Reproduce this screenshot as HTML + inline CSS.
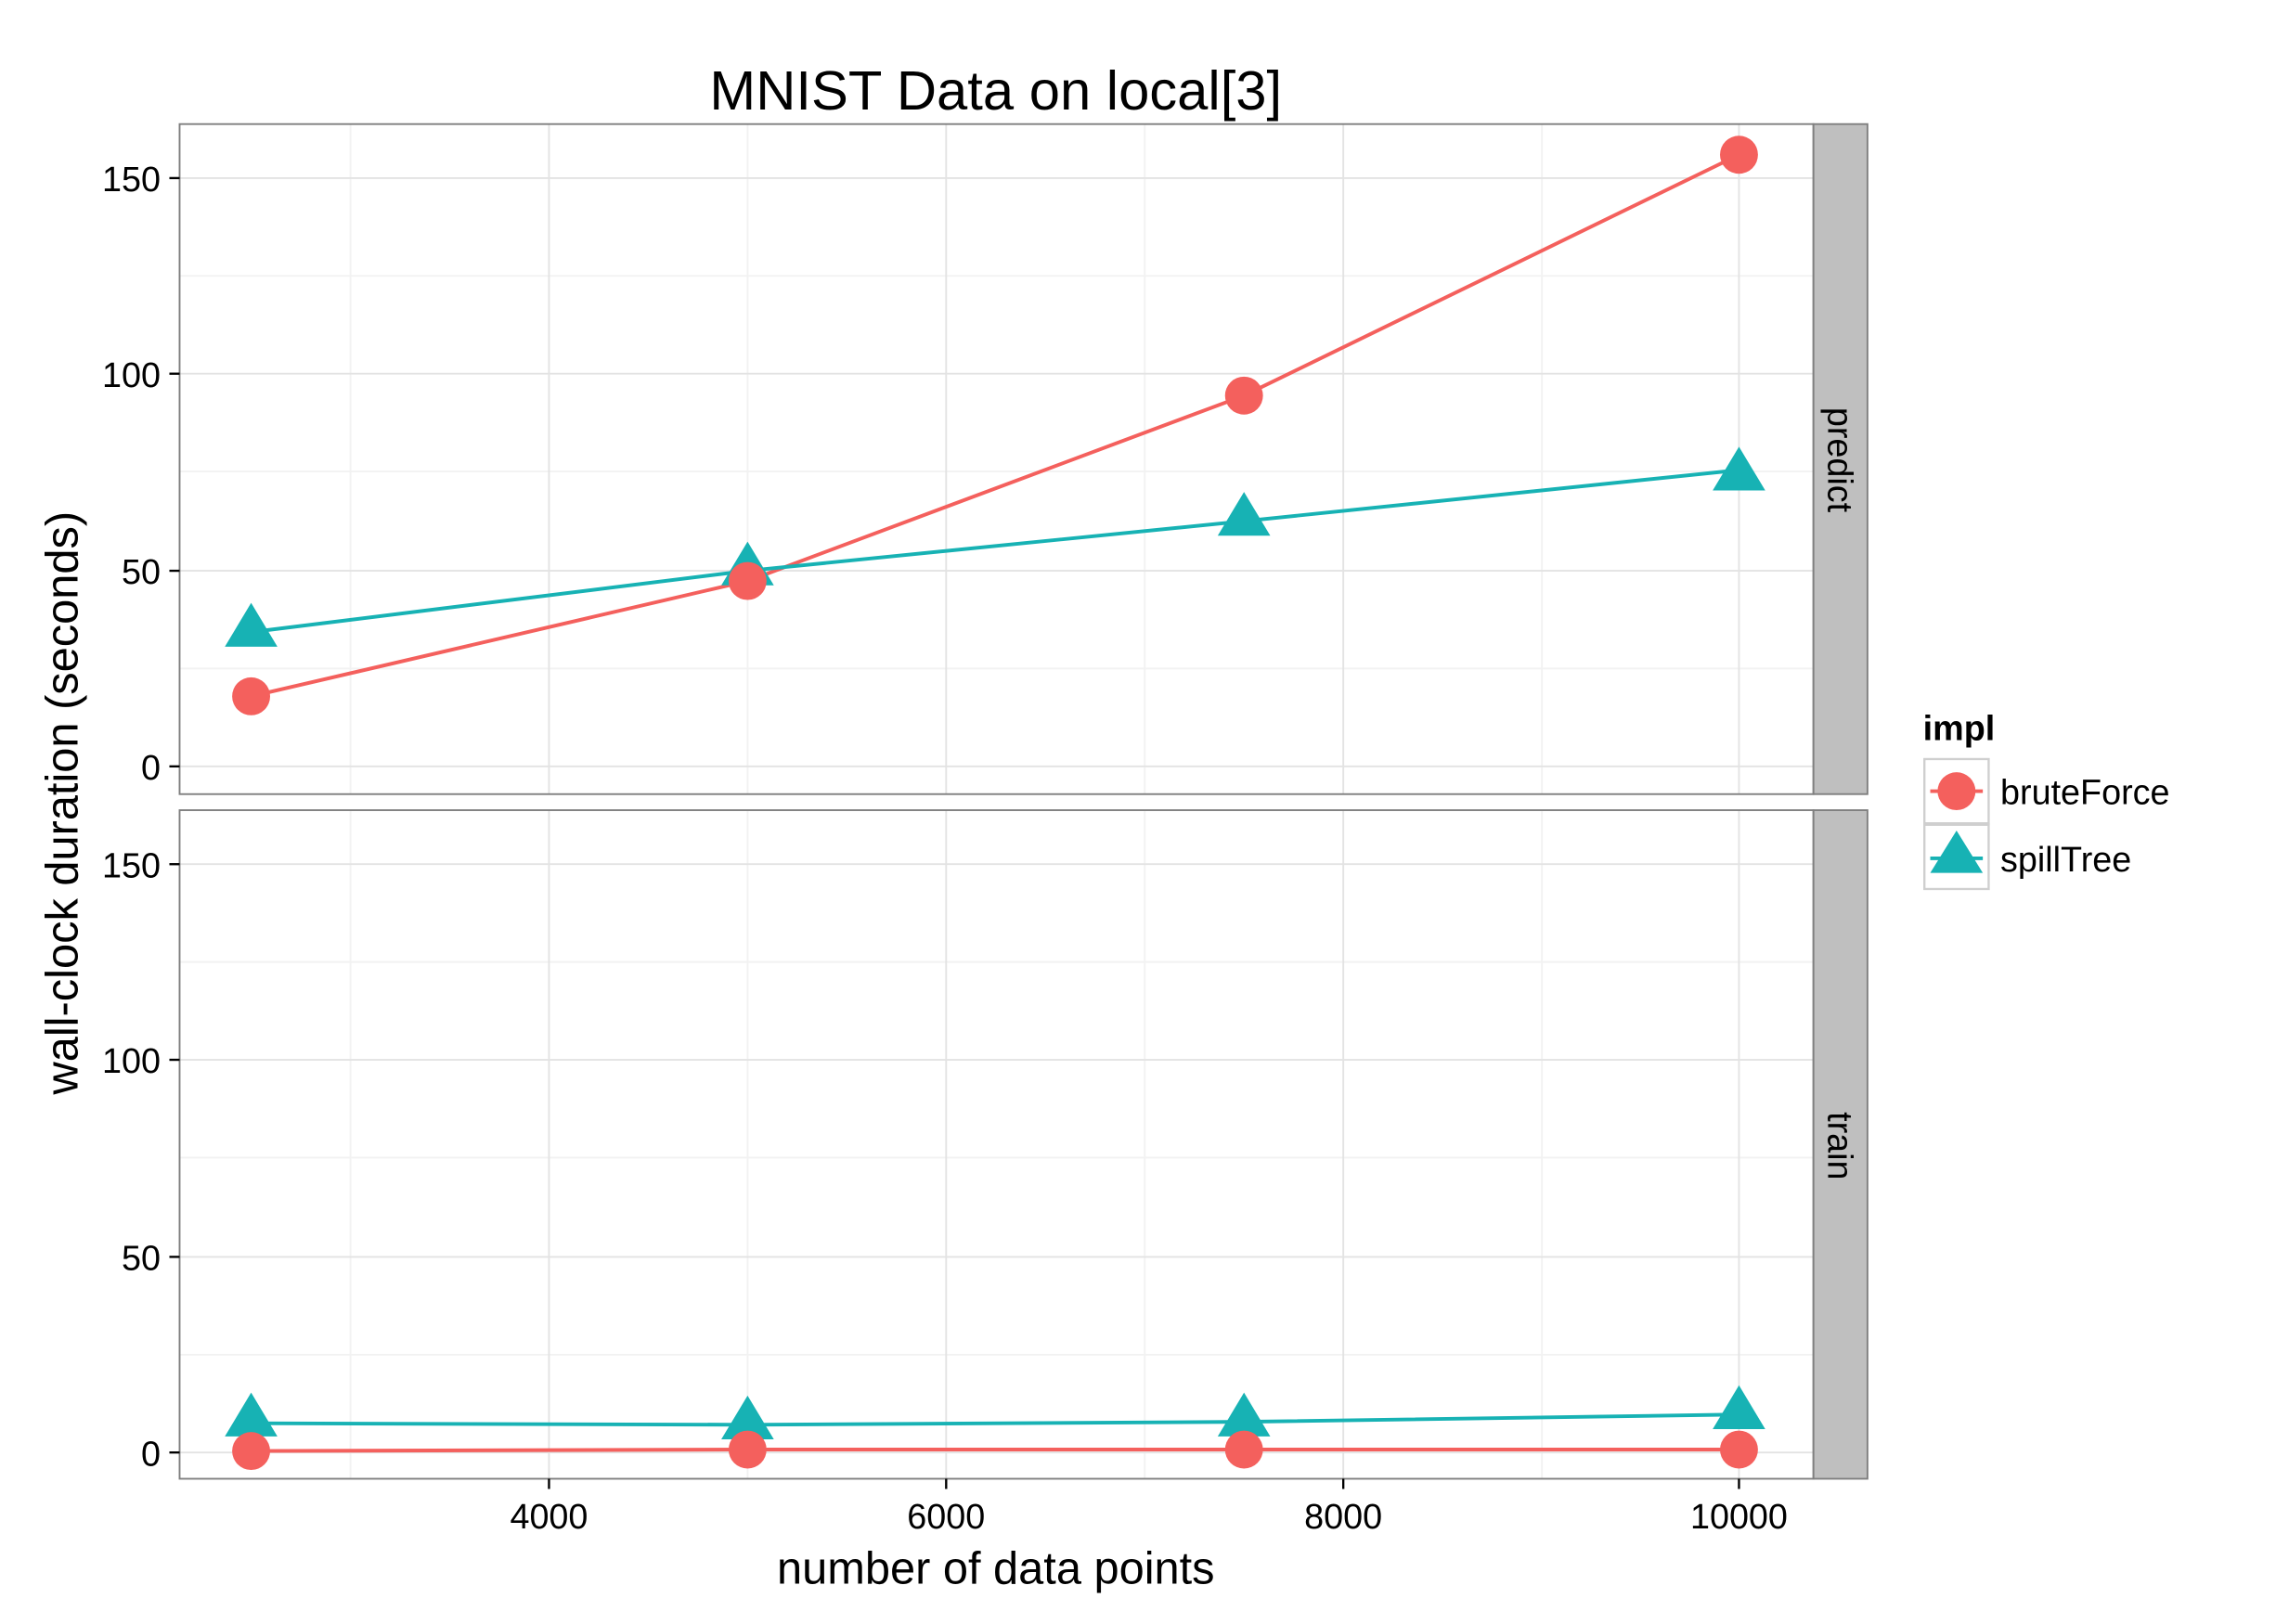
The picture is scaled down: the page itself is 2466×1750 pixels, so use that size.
<!DOCTYPE html>
<html><head><style>html,body{margin:0;padding:0;background:#fff}svg{display:block}</style></head>
<body>
<svg width="2466" height="1750" viewBox="0 0 1567.7 1112.5" preserveAspectRatio="none" xmlns="http://www.w3.org/2000/svg" font-family="Liberation Sans, Arial, sans-serif">
<rect width="1567.7" height="1112.5" fill="#fff"/>
<text x="682" y="75" font-size="38" text-anchor="middle">MNIST Data on local[3]</text>
<g id="panels">
<rect x="123" y="85" width="1119" height="459" fill="#fff"/>
<g stroke="#f2f2f2" stroke-width="1.2">
<line x1="123" x2="1242" y1="458" y2="458"/><line x1="123" x2="1242" y1="323" y2="323"/><line x1="123" x2="1242" y1="189" y2="189"/>
<line x1="240" x2="240" y1="85" y2="544"/><line x1="512" x2="512" y1="85" y2="544"/><line x1="784" x2="784" y1="85" y2="544"/><line x1="1056" x2="1056" y1="85" y2="544"/>
</g>
<g stroke="#e3e3e3" stroke-width="1.2">
<line x1="123" x2="1242" y1="525" y2="525"/><line x1="123" x2="1242" y1="391" y2="391"/><line x1="123" x2="1242" y1="256" y2="256"/><line x1="123" x2="1242" y1="122" y2="122"/>
<line x1="376" x2="376" y1="85" y2="544"/><line x1="648" x2="648" y1="85" y2="544"/><line x1="920" x2="920" y1="85" y2="544"/><line x1="1191" x2="1191" y1="85" y2="544"/>
</g>
<rect x="123" y="85" width="1119" height="459" fill="none" stroke="#7f7f7f" stroke-width="1.2"/>
<rect x="1242" y="85" width="37" height="459" fill="#bfbfbf" stroke="#7f7f7f" stroke-width="1.2"/>
<text transform="translate(1252,315) rotate(90)" font-size="24" text-anchor="middle">predict</text>
<polyline points="172,477 512,398 852,271 1191,106" fill="none" stroke="#F4605D" stroke-width="2.5"/>
<polyline points="172,433 512,391 852,357 1191,322" fill="none" stroke="#17B2B4" stroke-width="2.5"/>
<g fill="#17B2B4">
<polygon points="172,413 154,443 190,443"/><polygon points="512,371 494,401 530,401"/><polygon points="852,337 834,367 870,367"/><polygon points="1191,306 1173,336 1209,336"/>
</g>
<g fill="#F4605D">
<circle cx="172" cy="477" r="13"/><circle cx="512" cy="398" r="13"/><circle cx="852" cy="271" r="13"/><circle cx="1191" cy="106" r="13"/>
</g>
<rect x="123" y="555" width="1119" height="458" fill="#fff"/>
<g stroke="#f2f2f2" stroke-width="1.2">
<line x1="123" x2="1242" y1="928" y2="928"/><line x1="123" x2="1242" y1="793" y2="793"/><line x1="123" x2="1242" y1="659" y2="659"/>
<line x1="240" x2="240" y1="555" y2="1013"/><line x1="512" x2="512" y1="555" y2="1013"/><line x1="784" x2="784" y1="555" y2="1013"/><line x1="1056" x2="1056" y1="555" y2="1013"/>
</g>
<g stroke="#e3e3e3" stroke-width="1.2">
<line x1="123" x2="1242" y1="995" y2="995"/><line x1="123" x2="1242" y1="861" y2="861"/><line x1="123" x2="1242" y1="726" y2="726"/><line x1="123" x2="1242" y1="592" y2="592"/>
<line x1="376" x2="376" y1="555" y2="1013"/><line x1="648" x2="648" y1="555" y2="1013"/><line x1="920" x2="920" y1="555" y2="1013"/><line x1="1191" x2="1191" y1="555" y2="1013"/>
</g>
<rect x="123" y="555" width="1119" height="458" fill="none" stroke="#7f7f7f" stroke-width="1.2"/>
<rect x="1242" y="555" width="37" height="458" fill="#bfbfbf" stroke="#7f7f7f" stroke-width="1.2"/>
<text transform="translate(1252,785) rotate(90)" font-size="24" text-anchor="middle">train</text>
<polyline points="172,994 512,993 852,993 1191,993" fill="none" stroke="#F4605D" stroke-width="2.5"/>
<polyline points="172,975 512,976 852,974 1191,969" fill="none" stroke="#17B2B4" stroke-width="2.5"/>
<g fill="#17B2B4">
<polygon points="172,954 154,984 190,984"/><polygon points="512,956 494,986 530,986"/><polygon points="852,954 834,984 870,984"/><polygon points="1191,949 1173,979 1209,979"/>
</g>
<g fill="#F4605D">
<circle cx="172" cy="994" r="13"/><circle cx="512" cy="993" r="13"/><circle cx="852" cy="993" r="13"/><circle cx="1191" cy="993" r="13"/>
</g>
</g>
<g stroke="#000" stroke-width="1.5">
<line x1="116" x2="123" y1="525" y2="525"/><line x1="116" x2="123" y1="391" y2="391"/><line x1="116" x2="123" y1="256" y2="256"/><line x1="116" x2="123" y1="122" y2="122"/>
<line x1="116" x2="123" y1="995" y2="995"/><line x1="116" x2="123" y1="861" y2="861"/><line x1="116" x2="123" y1="726" y2="726"/><line x1="116" x2="123" y1="592" y2="592"/>
<line x1="376" x2="376" y1="1013" y2="1020"/><line x1="648" x2="648" y1="1013" y2="1020"/><line x1="920" x2="920" y1="1013" y2="1020"/><line x1="1191" x2="1191" y1="1013" y2="1020"/>
</g>
<g font-size="24" text-anchor="end">
<text x="110" y="534">0</text><text x="110" y="400">50</text><text x="110" y="265">100</text><text x="110" y="131">150</text>
<text x="110" y="1004">0</text><text x="110" y="870">50</text><text x="110" y="735">100</text><text x="110" y="601">150</text>
</g>
<g font-size="24" text-anchor="middle">
<text x="376" y="1047">4000</text><text x="648" y="1047">6000</text><text x="920" y="1047">8000</text><text x="1191" y="1047">10000</text>
</g>
<text x="682" y="1085" font-size="31" text-anchor="middle">number of data points</text>
<text transform="translate(53,550) rotate(-90)" font-size="31" text-anchor="middle">wall-clock duration (seconds)</text>
<text x="1317" y="507" font-size="24" font-weight="bold">impl</text>
<rect x="1318" y="520" width="44" height="44" fill="#fff" stroke="#cfcfcf" stroke-width="1.5"/>
<rect x="1318" y="565" width="44" height="44" fill="#fff" stroke="#cfcfcf" stroke-width="1.5"/>
<line x1="1322" x2="1358" y1="542" y2="542" stroke="#F4605D" stroke-width="2.5"/>
<circle cx="1340" cy="542" r="13" fill="#F4605D"/>
<line x1="1322" x2="1358" y1="588" y2="588" stroke="#17B2B4" stroke-width="2.5"/>
<polygon points="1340,569 1322,598 1358,598" fill="#17B2B4"/>
<text x="1370" y="551" font-size="24">bruteForce</text>
<text x="1370" y="597" font-size="24">spillTree</text>
</svg>
</body></html>
